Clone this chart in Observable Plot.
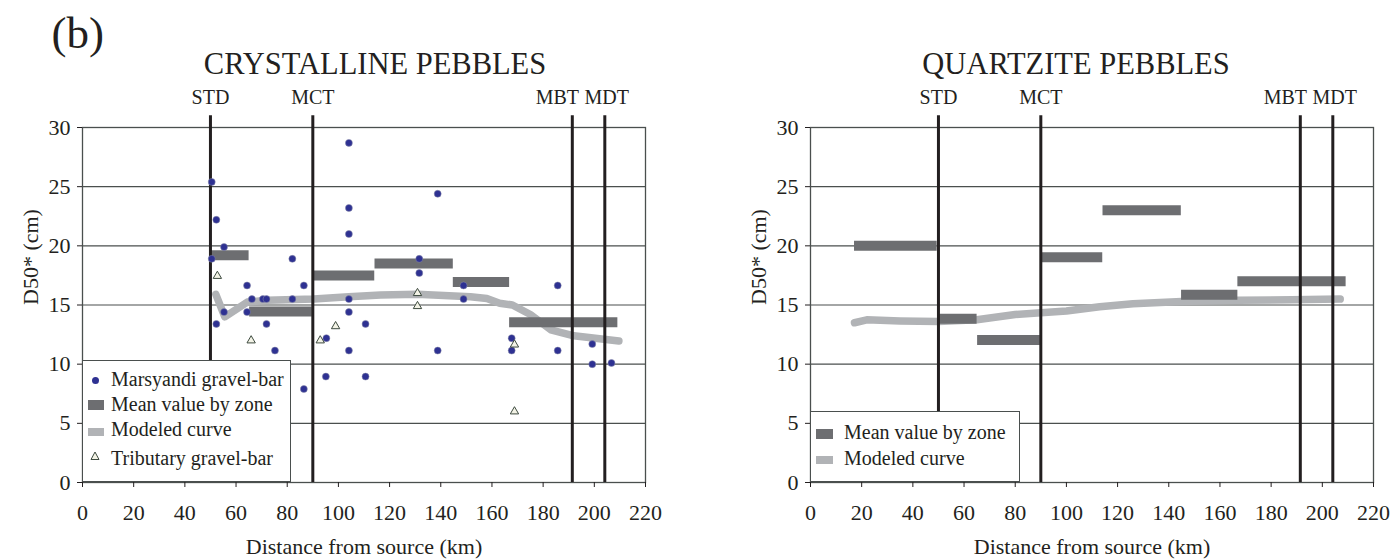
<!DOCTYPE html>
<html>
<head>
<meta charset="utf-8">
<script src="https://cdn.jsdelivr.net/npm/d3@7"></script>
<script src="https://cdn.jsdelivr.net/npm/@observablehq/plot@0.6"></script>
<style>
  body { margin: 0; background: #fff; }
  #root { position: relative; width: 1393px; height: 559px; font-family: "Liberation Serif", "Times New Roman", serif; color: #231f20; overflow: hidden; }
  .panel { position: absolute; top: 0; }
  .legend { position: absolute; background: #fff; border: 1px solid #4a4f4e; box-sizing: border-box; }
  .legend .t { position: absolute; font-size: 20px; line-height: 20px; white-space: nowrap; }
  .legend .sw { position: absolute; }
</style>
</head>
<body>
<div id="root">
  <div id="left" class="panel" style="left:0"></div>
  <div id="right" class="panel" style="left:728px"></div>

  <div class="legend" style="left:82px; top:360px; width:209px; height:122px;">
    <div class="sw" style="left:9px; top:16px; width:7px; height:7px; border-radius:50%; background:#2e3192;"></div>
    <div class="sw" style="left:5px; top:39px; width:16px; height:10px; background:#6d6e71;"></div>
    <div class="sw" style="left:5px; top:67px; width:16px; height:8px; background:#b1b3b6;"></div>
    <svg class="sw" style="left:7px; top:90px;" width="10" height="10"><polygon points="5,1 9,8.5 1,8.5" fill="#f3f3e6" stroke="#3d4a3f" stroke-width="1"/></svg>
    <div class="t" style="left:28px; top:8px;">Marsyandi gravel-bar</div>
    <div class="t" style="left:28px; top:32.5px;">Mean value by zone</div>
    <div class="t" style="left:28px; top:58px;">Modeled curve</div>
    <div class="t" style="left:28px; top:86.5px;">Tributary gravel-bar</div>
  </div>

  <div class="legend" style="left:810px; top:411px; width:210px; height:71px;">
    <div class="sw" style="left:5px; top:16.5px; width:17px; height:10px; background:#6d6e71;"></div>
    <div class="sw" style="left:5px; top:44px; width:17px; height:8px; background:#b1b3b6;"></div>
    <div class="t" style="left:33px; top:9.5px;">Mean value by zone</div>
    <div class="t" style="left:33px; top:36px;">Modeled curve</div>
  </div>
</div>
<script>
// ---------- data ----------
const panelTitles = ["CRYSTALLINE PEBBLES", "QUARTZITE PEBBLES"];
const panelLetter = "(b)";
const xLabel = "Distance from source (km)";
const yLabel = "D50* (cm)";
const xTicks = [0, 20, 40, 60, 80, 100, 120, 140, 160, 180, 200, 220];
const yTicks = [0, 5, 10, 15, 20, 25, 30];

const faultNames = ["STD", "MCT", "MBT", "MDT"];
const faultKm = [50, 90, 191.4, 204.1];

// Crystalline: Marsyandi gravel-bar samples
const marsyandiKm = [50.5, 52.3, 55.3, 50.5, 82, 64.3, 86.5, 66.2, 70.5, 71.9, 82, 55.3, 64.3, 52.3, 71.9, 75.2,
  104.1, 104.1, 104.1, 104.1, 104.1, 110.6, 95.3, 104.1, 95.1, 110.6, 86.5,
  138.8, 131.6, 131.6, 148.9, 185.7, 148.9, 138.8, 167.7, 167.7, 185.7, 199.2, 199.2, 206.7];
const marsyandiD50 = [25.4, 22.2, 19.9, 18.9, 18.9, 16.65, 16.65, 15.5, 15.5, 15.5, 15.5, 14.4, 14.4, 13.4, 13.4, 11.15,
  28.7, 23.2, 21.0, 15.5, 14.4, 13.4, 12.2, 11.15, 8.95, 8.95, 7.9,
  24.4, 18.9, 17.7, 16.65, 16.65, 15.5, 11.15, 12.2, 11.15, 11.15, 11.7, 10.0, 10.1];

// Crystalline: tributary gravel-bar samples
const tributaryKm = [52.7, 65.9, 98.9, 92.9, 130.9, 130.9, 168.8, 168.8];
const tributaryD50 = [17.45, 12.0, 13.2, 12.0, 16.0, 14.9, 11.65, 6.0];

// Crystalline: mean value by zone
const crystZoneStart = [50.5, 65.3, 90.4, 114.3, 144.9, 166.9];
const crystZoneEnd = [65.1, 89.8, 114.2, 144.9, 166.9, 209.2];
const crystZoneMean = [19.2, 14.45, 17.5, 18.5, 16.95, 13.55];

// Crystalline: modeled curve
const crystCurveKm = [52.1, 55.6, 64.4, 72.2, 90.4, 104, 116.5, 130.8, 151.6, 158, 163, 168, 175, 183, 192, 209.6];
const crystCurveD50 = [15.9, 14.0, 15.25, 15.4, 15.5, 15.7, 15.85, 15.9, 15.7, 15.55, 15.15, 15.0, 14.2, 12.9, 12.4, 11.95];

// Quartzite: mean value by zone
const quartzZoneStart = [17.2, 50.1, 65.3, 90.6, 114.3, 145.0, 167.0];
const quartzZoneEnd = [49.5, 65.1, 89.8, 114.2, 144.9, 167.0, 209.3];
const quartzZoneMean = [20.0, 13.83, 12.05, 19.03, 23.0, 15.87, 17.0];

// Quartzite: modeled curve
const quartzCurveKm = [17.2, 22, 35, 50, 65, 80, 90, 100, 113, 126, 145, 167, 188, 207];
const quartzCurveD50 = [13.5, 13.75, 13.65, 13.6, 13.75, 14.2, 14.35, 14.5, 14.85, 15.1, 15.3, 15.4, 15.45, 15.5];

// ---------- tables ----------
const faults = faultNames.map((name, i) => ({name, km: faultKm[i]}));
const zip2 = (a, b) => a.map((v, i) => ({km: v, d50: b[i]}));
const zones = (s, e, m) => s.map((v, i) => ({x1: v, x2: e[i], d50: m[i]}));

const INK = "#231f20";
const GRID = "#4a4f4e";
const DOT = "#2e3192";
const BAR = "#6d6e71";
const CURVE = "#b1b3b6";
const FONT = "'Liberation Serif', 'Times New Roman', serif";

// label nudges so that MBT / MDT labels sit side by side as in the figure
const labelShift = {MBT: -15, MDT: 2};

function panel({width, marginRight, title, titleDx, zoneRows, curveRows, dots, tris, letter}) {
  const marks = [
    Plot.gridY({ticks: yTicks, stroke: GRID, strokeOpacity: 1, strokeWidth: 1.2}),
    Plot.line(curveRows, {x: "km", y: "d50", stroke: CURVE, strokeWidth: 7.5, strokeLinejoin: "round"}),
    Plot.ruleY(zoneRows, {x1: "x1", x2: "x2", y: "d50", stroke: BAR, strokeWidth: 10}),
    Plot.frame({stroke: GRID, strokeWidth: 1.3}),
    Plot.ruleX(faults, {x: "km", y1: 0, y2: 31, stroke: INK, strokeWidth: 3})
  ];
  for (const f of faults) {
    marks.push(Plot.text([f], {x: "km", y: 32, text: "name", dx: labelShift[f.name] || 0, lineAnchor: "bottom", fontSize: 20, fill: INK}));
  }
  marks.push(
    Plot.axisX({ticks: xTicks, tickSize: 5, tickPadding: 17, fontSize: 22, label: null, stroke: INK, color: INK}),
    Plot.axisY({ticks: yTicks, tickSize: 5, tickPadding: 7, fontSize: 22, label: null, stroke: INK, color: INK}),
    Plot.text([xLabel], {text: d => d, frameAnchor: "bottom", dy: 71, lineAnchor: "bottom", fontSize: 22, fill: INK}),
    Plot.text([yLabel], {text: d => d, frameAnchor: "left", dx: -52, rotate: -90, fontSize: 22, fill: INK}),
    Plot.text([title], {text: d => d, frameAnchor: "top", dx: titleDx, dy: -54, lineAnchor: "bottom", fontSize: 30.5, fill: INK})
  );
  if (dots) marks.push(Plot.dot(dots, {x: "km", y: "d50", r: 3.5, fill: DOT, stroke: "#8a8da8", strokeWidth: 0.5}));
  if (tris) marks.push(Plot.dot(tris, {x: "km", y: "d50", symbol: "triangle", r: 3.1, fill: "#f3f3e6", stroke: "#3d4a3f", strokeWidth: 1}));
  if (letter) marks.push(Plot.text([letter], {text: d => d, frameAnchor: "top-left", dx: -31, dy: -80, textAnchor: "start", lineAnchor: "bottom", fontSize: 45, fill: INK}));
  return Plot.plot({
    width, height: 559,
    marginLeft: 82, marginRight, marginTop: 127, marginBottom: 77,
    x: {domain: [0, 220]},
    y: {domain: [0, 30]},
    style: {fontFamily: FONT, color: INK, background: "transparent", overflow: "visible"},
    marks
  });
}

document.getElementById("left").append(panel({
  width: 697, marginRight: 52, title: panelTitles[0], titleDx: 11,
  zoneRows: zones(crystZoneStart, crystZoneEnd, crystZoneMean),
  curveRows: zip2(crystCurveKm, crystCurveD50),
  dots: zip2(marsyandiKm, marsyandiD50),
  tris: zip2(tributaryKm, tributaryD50),
  letter: panelLetter
}));
document.getElementById("right").append(panel({
  width: 665, marginRight: 20, title: panelTitles[1], titleDx: -16,
  zoneRows: zones(quartzZoneStart, quartzZoneEnd, quartzZoneMean),
  curveRows: zip2(quartzCurveKm, quartzCurveD50)
}));
</script>
</body>
</html>
